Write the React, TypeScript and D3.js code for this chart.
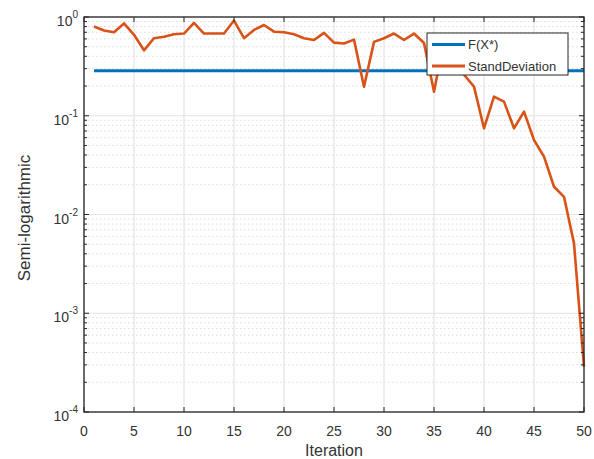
import React from "react";
import * as d3 from "d3";

const iterations = Array.from({ length: 50 }, (_, i) => i + 1);
const fStar = 0.286;
const standDeviation = [
  0.80, 0.73, 0.70, 0.86, 0.66, 0.46, 0.61, 0.63, 0.67, 0.68,
  0.87, 0.68, 0.68, 0.68, 0.92, 0.61, 0.74, 0.83, 0.71, 0.70,
  0.67, 0.61, 0.585, 0.69, 0.55, 0.54, 0.59, 0.197, 0.56, 0.61,
  0.68, 0.585, 0.68, 0.545, 0.175, 0.58, 0.42, 0.26, 0.197, 0.0746,
  0.156, 0.139, 0.0746, 0.11, 0.0568, 0.0385, 0.0191, 0.0151, 0.0051, 0.000286,
];
const xTicks = [0, 5, 10, 15, 20, 25, 30, 35, 40, 45, 50];
const yExponents = [0, -1, -2, -3, -4];
const legendLabels = ["F(X*)", "StandDeviation"];
const seriesColors = ["#0072BD", "#D95319"];

const W = 594, H = 459;
const M = { left: 84, right: 584, top: 17, bottom: 412 };

export default function App() {
  const x = d3.scaleLinear().domain([0, 50]).range([M.left, M.right]);
  const y = d3.scaleLog().domain([1e-4, 1]).range([M.bottom, M.top]);

  const minor: number[] = [];
  for (let e = -4; e < 0; e++) for (let k = 2; k <= 9; k++) minor.push(k * Math.pow(10, e));

  const line = d3.line<number>().x((_, i) => x(iterations[i])).y((d) => y(d));
  const fLine = iterations.map(() => fStar);
  const axisColor = "#262626";
  const font = "Arial, 'Liberation Sans', sans-serif";

  return (
    <svg width={W} height={H} style={{ position: "absolute", left: 0, top: 0, background: "#fff" }} fontFamily={font}>
      {minor.map((v, i) => (
        <line key={"mg" + i} x1={M.left} x2={M.right} y1={y(v)} y2={y(v)} stroke="#dcdcdc" strokeWidth={1} strokeDasharray="1.5,2.5" />
      ))}
      {yExponents.map((e) => (
        <line key={"yg" + e} x1={M.left} x2={M.right} y1={y(Math.pow(10, e))} y2={y(Math.pow(10, e))} stroke="#e3e3e3" strokeWidth={1.2} />
      ))}
      {xTicks.map((t) => (
        <line key={"xg" + t} x1={x(t)} x2={x(t)} y1={M.top} y2={M.bottom} stroke="#e3e3e3" strokeWidth={1.2} />
      ))}
      <path d={line(fLine) || ""} fill="none" stroke={seriesColors[0]} strokeWidth={3} />
      <path d={line(standDeviation) || ""} fill="none" stroke={seriesColors[1]} strokeWidth={2.6} strokeLinejoin="round" />
      <rect x={M.left} y={M.top} width={M.right - M.left} height={M.bottom - M.top} fill="none" stroke={axisColor} strokeWidth={1.3} />
      {xTicks.map((t) => (
        <g key={"xt" + t}>
          <line x1={x(t)} x2={x(t)} y1={M.bottom} y2={M.bottom - 5} stroke={axisColor} />
          <line x1={x(t)} x2={x(t)} y1={M.top} y2={M.top + 5} stroke={axisColor} />
          <text x={x(t)} y={436} textAnchor="middle" fontSize={14} fill="#333">{t}</text>
        </g>
      ))}
      {yExponents.map((e) => {
        const yy = y(Math.pow(10, e));
        return (
          <g key={"yt" + e}>
            <line x1={M.left} x2={M.left + 5} y1={yy} y2={yy} stroke={axisColor} />
            <line x1={M.right} x2={M.right - 5} y1={yy} y2={yy} stroke={axisColor} />
            <text x={78} y={yy + 9} textAnchor="end" fontSize={14} fill="#333">
              10<tspan dy={-8} fontSize={10}>{e}</tspan>
            </text>
          </g>
        );
      })}
      {minor.map((v, i) => (
        <g key={"mt" + i}>
          <line x1={M.left} x2={M.left + 3} y1={y(v)} y2={y(v)} stroke={axisColor} />
          <line x1={M.right} x2={M.right - 3} y1={y(v)} y2={y(v)} stroke={axisColor} />
        </g>
      ))}
      <text x={334} y={456} textAnchor="middle" fontSize={16} fill="#333">Iteration</text>
      <text transform={`translate(30,218) rotate(-90)`} textAnchor="middle" fontSize={17} fill="#333">Semi-logarithmic</text>
      <rect x={427} y={33} width={141} height={42} fill="#fff" stroke={axisColor} strokeWidth={1} />
      {legendLabels.map((lab, i) => (
        <g key={lab}>
          <line x1={432} x2={465} y1={44.5 + i * 21.5} y2={44.5 + i * 21.5} stroke={seriesColors[i]} strokeWidth={3} />
          <text x={468} y={49 + i * 21.5} fontSize={13} fill="#333">{lab}</text>
        </g>
      ))}
    </svg>
  );
}
